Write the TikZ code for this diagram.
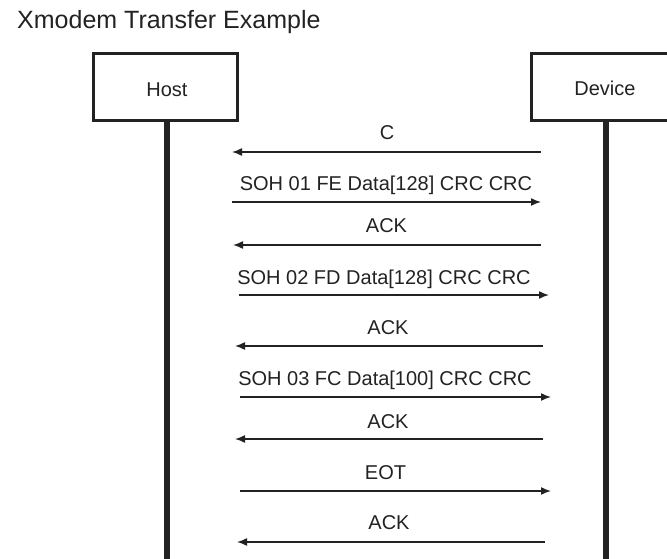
\documentclass[tikz,border=0pt]{standalone}
\usepackage{fontspec}
\setmainfont{Liberation Sans}
\usetikzlibrary{arrows.meta}
\definecolor{ink}{HTML}{222222}
\begin{document}
\begin{tikzpicture}[x=1pt,y=-1pt,
  actorbox/.style={draw=ink,line width=3pt},
  lifeline/.style={draw=ink,line width=6pt},
  msg/.style={draw=ink,line width=1.5pt,-{Latex[length=10pt,width=8pt]}},
  msglabel/.style={anchor=base,inner sep=0pt,text=ink,font=\fontsize{20}{24}\selectfont},
  actorlabel/.style={anchor=base,inner sep=0pt,text=ink,font=\fontsize{20}{24}\selectfont},
]
\useasboundingbox (0,0) rectangle (667,559);
\clip (0,0) rectangle (667,559);
% title
\node[anchor=base west,inner sep=0pt,text=ink,font=\fontsize{25}{29}\selectfont] (title) at (17,29) {Xmodem Transfer Example};
% actors
\draw[actorbox] (93.5,53.5) rectangle (237.5,120.5);
\draw[actorbox] (531.5,53.5) rectangle (690,120.5);
\node[actorlabel] (host) at (167,96.5) {Host};
\node[actorlabel] (device) at (605,95.5) {Device};
\coordinate (hosttop) at (166.5,122);
\coordinate (hostbot) at (166.5,565);
\coordinate (devtop) at (605.5,122);
\coordinate (devbot) at (605.5,565);
\draw[lifeline] (hosttop) -- (hostbot);
\draw[lifeline] (devtop) -- (devbot);
% messages
\coordinate (a1r) at (541,152); \coordinate (a1l) at (232,152);
\coordinate (a2l) at (232,202); \coordinate (a2r) at (541,202);
\coordinate (a3r) at (541,245); \coordinate (a3l) at (233,245);
\coordinate (a4l) at (239,295); \coordinate (a4r) at (549,295);
\coordinate (a5r) at (543,346); \coordinate (a5l) at (235,346);
\coordinate (a6l) at (240,397); \coordinate (a6r) at (551,397);
\coordinate (a7r) at (543,439); \coordinate (a7l) at (235,439);
\coordinate (a8l) at (240,491); \coordinate (a8r) at (551,491);
\coordinate (a9r) at (545,542); \coordinate (a9l) at (237,542);
\draw[msg] (a1r) -- (a1l);
\draw[msg] (a2l) -- (a2r);
\draw[msg] (a3r) -- (a3l);
\draw[msg] (a4l) -- (a4r);
\draw[msg] (a5r) -- (a5l);
\draw[msg] (a6l) -- (a6r);
\draw[msg] (a7r) -- (a7l);
\draw[msg] (a8l) -- (a8r);
\draw[msg] (a9r) -- (a9l);
\node[msglabel] (l1) at (387,140) {C};
\node[msglabel] (l2) at (386,190) {SOH 01 FE Data[128] CRC CRC};
\node[msglabel] (l3) at (386.5,232) {ACK};
\node[msglabel] (l4) at (384,284) {SOH 02 FD Data[128] CRC CRC};
\node[msglabel] (l5) at (388,334) {ACK};
\node[msglabel] (l6) at (385,385) {SOH 03 FC Data[100] CRC CRC};
\node[msglabel] (l7) at (388,428) {ACK};
\node[msglabel] (l8) at (385.5,479) {EOT};
\node[msglabel] (l9) at (389,529) {ACK};
\end{tikzpicture}
\end{document}
